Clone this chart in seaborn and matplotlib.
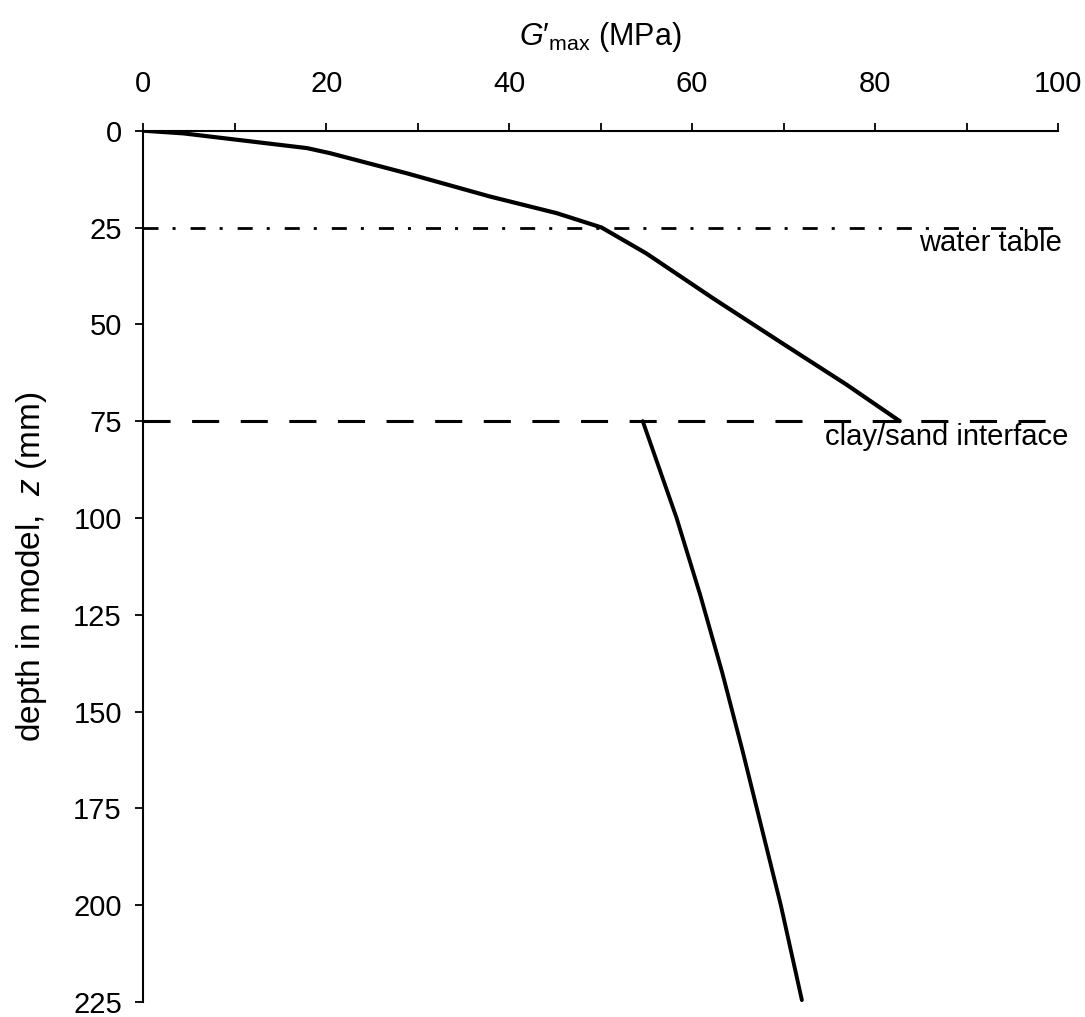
import matplotlib
matplotlib.use("Agg")
import matplotlib.pyplot as plt
import seaborn as sns
import pandas as pd

# G'max profile (MPa vs depth in mm)
clay_g = [0, 4.4, 17.9, 20.4, 28.8, 37.9, 45.2, 50.1, 55.0, 62.3, 69.6, 76.9, 82.7]
clay_z = [0, 0.7, 4.5, 5.8, 11.0, 17.0, 21.3, 25.0, 31.7, 43.3, 54.5, 65.6, 75.0]

sand_g = [54.6, 58.3, 60.9, 63.3, 65.5, 67.6, 69.7, 72.0]
sand_z = [75.0, 100.0, 120.0, 140.0, 160.0, 180.0, 200.0, 224.5]

# horizontal markers
water_table_z = 25
interface_z = 75
line_span = [0, 100]

x_ticks = [0, 20, 40, 60, 80, 100]
x_minor = [10, 30, 50, 70, 90]
y_ticks = [0, 25, 50, 75, 100, 125, 150, 175, 200, 225]

sns.set_theme(style="ticks")
plt.rcParams["font.family"] = ["Liberation Sans", "DejaVu Sans"]
plt.rcParams["mathtext.fontset"] = "custom"
plt.rcParams["mathtext.rm"] = "Liberation Sans"
plt.rcParams["mathtext.it"] = "Liberation Sans:italic"
plt.rcParams["lines.scale_dashes"] = False
plt.rcParams["text.color"] = "black"
plt.rcParams["axes.labelcolor"] = "black"

fig = plt.figure(figsize=(10.85, 10.17), dpi=100)
ax = fig.add_axes([0.1321, 0.0147, 0.9751 - 0.1321, 0.8715 - 0.0147])

clay = pd.DataFrame({"G": clay_g, "z": clay_z})
sand = pd.DataFrame({"G": sand_g, "z": sand_z})

sns.lineplot(data=clay, x="G", y="z", sort=False, estimator=None,
             color="black", lw=3.0, ax=ax)
sns.lineplot(data=sand, x="G", y="z", sort=False, estimator=None,
             color="black", lw=2.8, ax=ax)

ax.hlines(water_table_z, line_span[0], line_span[1], color="black", lw=2.0,
          linestyles=[(0, (10.8, 10.1, 2.2, 10.8))])
ax.hlines(interface_z, line_span[0], line_span[1], color="black", lw=2.2,
          linestyles=[(0, (19.5, 15.5))])

ax.text(84.8, 25.4, "water table", fontsize=21, va="top", ha="left")
ax.text(74.5, 75.6, "clay/sand interface", fontsize=21, va="top", ha="left")

ax.set_xlim(0, 100)
ax.set_ylim(225, 0)
ax.xaxis.tick_top()
ax.xaxis.set_label_position("top")
ax.set_xticks(x_ticks)
ax.set_xticks(x_minor, minor=True)
ax.set_yticks(y_ticks)

ax.tick_params(axis="x", which="both", direction="out", length=5.5, width=1.3,
               pad=18, labelsize=21, colors="black")
ax.tick_params(axis="y", which="major", direction="out", length=5.5, width=1.3,
               pad=10, labelsize=21, colors="black")

ax.set_xlabel("$G$′$_{\\mathrm{max}}$ (MPa)", fontsize=22, labelpad=18)
ax.set_ylabel("depth in model,  $z$ (mm)", fontsize=24, labelpad=17)

ax.spines["right"].set_visible(False)
ax.spines["bottom"].set_visible(False)
for s in ["top", "left"]:
    ax.spines[s].set_linewidth(1.5)
    ax.spines[s].set_color("black")

ax.grid(False)

fig.savefig("out.png", dpi=100)
